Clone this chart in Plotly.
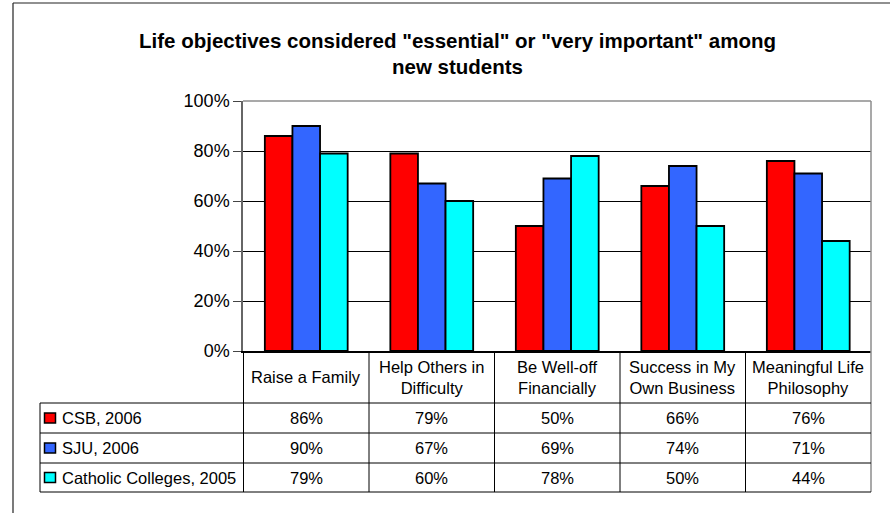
import plotly.graph_objects as go

categories = ["Raise a Family", "Help Others in Difficulty", "Be Well-off Financially",
              "Success in My Own Business", "Meaningful Life Philosophy"]
category_labels = ["Raise a Family", "Help Others in<br>Difficulty", "Be Well-off<br>Financially",
                   "Success in My<br>Own Business", "Meaningful Life<br>Philosophy"]
series_names = ["CSB, 2006", "SJU, 2006", "Catholic Colleges, 2005"]
csb_2006 = [86, 79, 50, 66, 76]
sju_2006 = [90, 67, 69, 74, 71]
catholic_2005 = [79, 60, 78, 50, 44]
series_values = [csb_2006, sju_2006, catholic_2005]
series_colors = ["#FF0000", "#3366FF", "#00FFFF"]
y_ticks = [0, 20, 40, 60, 80, 100]
y_tick_labels = ["0%", "20%", "40%", "60%", "80%", "100%"]

W, H = 890, 513
FONT = "Arial, 'Liberation Sans', sans-serif"

def px(x):
    return x / W

def py(y):
    return 1 - y / H

PL, PR, PT, PB = 243, 871, 101, 351

fig = go.Figure()
for name, vals, col in zip(series_names, series_values, series_colors):
    fig.add_trace(go.Bar(x=categories, y=vals, name=name,
                         marker=dict(color=col, line=dict(color="black", width=1.8))))

shapes = []
annotations = []

# outer frame
shapes.append(dict(type="line", xref="paper", yref="paper", x0=px(13), x1=1.02, y0=py(3), y1=py(3),
                   line=dict(color="#222", width=1.2)))
shapes.append(dict(type="line", xref="paper", yref="paper", x0=px(13), x1=px(13), y0=py(3), y1=-0.02,
                   line=dict(color="#222", width=1.2)))
# plot border (top/right gray)
shapes.append(dict(type="line", xref="paper", yref="paper", x0=px(PL), x1=px(PR), y0=py(PT), y1=py(PT),
                   line=dict(color="#8c8c8c", width=1.5)))
shapes.append(dict(type="line", xref="paper", yref="paper", x0=px(PR), x1=px(PR), y0=py(PT), y1=py(492),
                   line=dict(color="#8c8c8c", width=1.5)))

# table vertical lines at category boundaries
for i in range(len(categories)):
    shapes.append(dict(type="line", xref="x", yref="paper", x0=i - 0.5, x1=i - 0.5, y0=py(PB), y1=py(492),
                       line=dict(color="black", width=1)))
# legend column left border
shapes.append(dict(type="line", xref="paper", yref="paper", x0=px(40), x1=px(40), y0=py(403), y1=py(492),
                   line=dict(color="black", width=1)))
# table horizontal lines
for yy in [403, 433, 463, 492]:
    shapes.append(dict(type="line", xref="paper", yref="paper", x0=px(40), x1=px(PR), y0=py(yy), y1=py(yy),
                       line=dict(color="black", width=1)))

# title
annotations.append(dict(text='<b>Life objectives considered "essential" or "very important" among</b>',
                        xref="paper", yref="paper", x=px(458), y=py(40), showarrow=False,
                        font=dict(family=FONT, size=20.5, color="black"), xanchor="center", yanchor="middle"))
annotations.append(dict(text='<b>new students</b>',
                        xref="paper", yref="paper", x=px(458), y=py(66), showarrow=False,
                        font=dict(family=FONT, size=20.5, color="black"), xanchor="center", yanchor="middle"))

TS = 16.5
# header row category labels
for cat, lab in zip(categories, category_labels):
    annotations.append(dict(text=lab, xref="x", yref="paper", x=cat, y=py(377), showarrow=False,
                            font=dict(family=FONT, size=TS, color="black"), xanchor="center", yanchor="middle",
                            align="center"))

row_centers = [418, 448, 477.5]
for rc, name, vals, col in zip(row_centers, series_names, series_values, series_colors):
    shapes.append(dict(type="rect", xref="paper", yref="paper", x0=px(44.5), x1=px(55.5),
                       y0=py(rc - 5), y1=py(rc + 5), fillcolor=col, line=dict(color="black", width=1.5)))
    annotations.append(dict(text=name, xref="paper", yref="paper", x=px(60), y=py(rc), showarrow=False,
                            font=dict(family=FONT, size=TS, color="black"), xanchor="left", yanchor="middle"))
    for cat, v in zip(categories, vals):
        annotations.append(dict(text=f"{v}%", xref="x", yref="paper", x=cat, y=py(rc), showarrow=False,
                                font=dict(family=FONT, size=TS, color="black"), xanchor="center",
                                yanchor="middle"))

fig.update_layout(
    template="none",
    width=W, height=H, autosize=False,
    margin=dict(l=0, r=0, t=0, b=0, pad=0, autoexpand=False),
    paper_bgcolor="white", plot_bgcolor="white",
    showlegend=False,
    barmode="group", bargap=0.34, bargroupgap=0,
    font=dict(family=FONT, size=17, color="black"),
    xaxis=dict(domain=[px(PL), px(PR)], showticklabels=False, ticks="", showgrid=False, automargin=False,
               showline=True, linecolor="black", linewidth=2, zeroline=False, fixedrange=True),
    yaxis=dict(domain=[py(PB), py(PT)], range=[0, 100], tickvals=y_ticks, ticktext=y_tick_labels,
               ticks="outside", ticklen=8, tickcolor="#444", tickwidth=1, automargin=False,
               showgrid=True, gridcolor="black", gridwidth=1,
               showline=True, linecolor="#666", linewidth=1.5, zeroline=False,
               tickfont=dict(family=FONT, size=18, color="black"), fixedrange=True),
    shapes=shapes, annotations=annotations,
)

fig.write_html("out.html", config={"displayModeBar": False},
               post_script="document.body.style.margin='0px';document.body.style.overflow='hidden';")
